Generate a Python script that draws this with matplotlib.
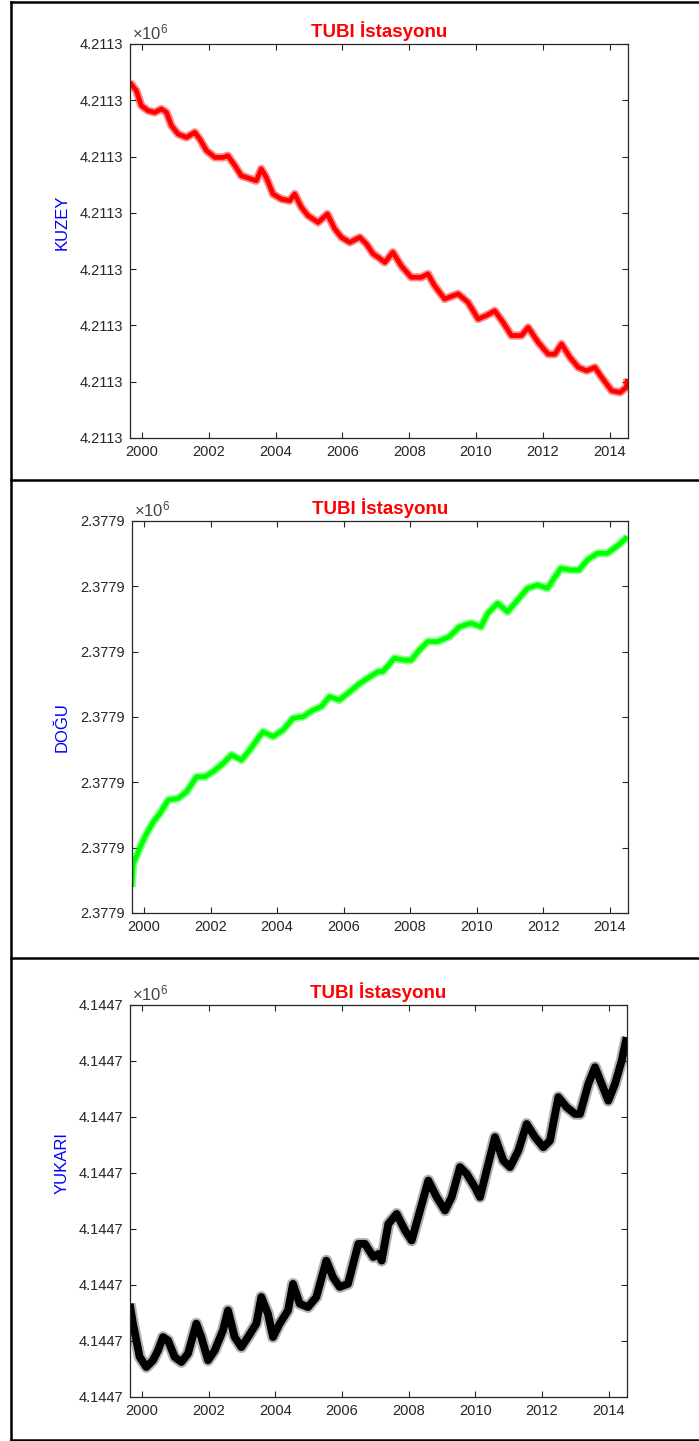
import numpy as np
import matplotlib
matplotlib.use("Agg")
import matplotlib.pyplot as plt
from matplotlib.lines import Line2D
from matplotlib.ticker import FixedLocator, FuncFormatter

plt.rcParams['font.family'] = ['Liberation Sans', 'DejaVu Sans']
plt.rcParams['mathtext.fontset'] = 'custom'
plt.rcParams['mathtext.rm'] = 'Liberation Sans'

# KUZEY (north) - years and offsets in mm above 4211300.30 m
kuzey_yil = [1999.63, 1999.83, 1999.98, 2000.18, 2000.38, 2000.58, 2000.73, 2000.88,
             2001.08, 2001.33, 2001.58, 2001.73, 2001.93, 2002.18, 2002.43, 2002.57,
             2002.78, 2002.97, 2003.27, 2003.42, 2003.57, 2003.72, 2003.92, 2004.17,
             2004.42, 2004.57, 2004.77, 2004.97, 2005.27, 2005.55, 2005.77, 2005.97,
             2006.22, 2006.52, 2006.72, 2006.92, 2007.07, 2007.27, 2007.51, 2007.76,
             2008.06, 2008.36, 2008.56, 2008.76, 2009.06, 2009.46, 2009.76, 2010.06,
             2010.31, 2010.56, 2010.81, 2011.06, 2011.36, 2011.56, 2011.86, 2012.16,
             2012.36, 2012.56, 2012.81, 2013.06, 2013.31, 2013.56, 2013.76, 2014.06,
             2014.31, 2014.50, 2014.53]
kuzey_mm = [126.4, 123.4, 118.1, 116.3, 115.7, 116.9, 115.7, 111.0,
            108.0, 106.8, 108.6, 106.2, 102.1, 99.7, 99.7, 100.3,
            96.8, 93.2, 92.0, 91.4, 95.6, 92.6, 86.7, 84.9,
            84.3, 86.7, 82.0, 79.0, 76.6, 79.6, 74.3, 71.3,
            69.5, 71.3, 68.9, 65.4, 64.2, 62.4, 66.0, 61.2,
            57.1, 57.1, 58.3, 54.1, 49.4, 51.2, 48.2, 42.3,
            43.5, 45.2, 41.1, 36.4, 36.4, 39.3, 34.0, 29.8,
            29.8, 33.4, 28.7, 25.1, 23.9, 25.1, 21.6, 16.8,
            16.2, 18.0, 21.0]

# DOGU (east) - offsets in mm above 2377900.20 m
dogu_yil = [1999.63, 1999.68, 1999.83, 2000.03, 2000.28, 2000.48, 2000.73, 2001.03,
            2001.28, 2001.58, 2001.83, 2002.08, 2002.38, 2002.63, 2002.93, 2003.18,
            2003.43, 2003.58, 2003.88, 2004.18, 2004.48, 2004.78, 2005.08, 2005.33,
            2005.58, 2005.88, 2006.18, 2006.49, 2006.79, 2007.04, 2007.18, 2007.53,
            2007.83, 2008.03, 2008.28, 2008.53, 2008.83, 2009.18, 2009.48, 2009.83,
            2010.13, 2010.33, 2010.63, 2010.93, 2011.23, 2011.53, 2011.83, 2012.13,
            2012.33, 2012.53, 2012.83, 2013.08, 2013.33, 2013.63, 2013.93, 2014.13,
            2014.33, 2014.53]
dogu_mm = [8.0, 15.2, 18.8, 23.4, 27.9, 30.5, 34.6, 35.1,
           37.1, 41.7, 41.7, 43.3, 45.8, 48.4, 46.8, 49.9,
           53.5, 55.5, 54.0, 56.0, 59.6, 60.1, 62.1, 63.2,
           66.2, 65.2, 67.7, 70.3, 72.3, 73.9, 73.9, 78.0,
           77.4, 77.4, 80.5, 83.1, 83.1, 84.6, 87.6, 88.7,
           87.6, 91.7, 94.8, 92.2, 95.8, 99.4, 100.4, 99.4,
           102.5, 105.5, 105.0, 105.0, 108.1, 110.1, 110.1, 111.6,
           113.2, 115.2]

# YUKARI (up) - offsets in mm above 4144700.30 m
yukari_yil = [1999.63, 1999.73, 1999.93, 2000.13, 2000.33, 2000.48, 2000.63, 2000.78,
              2000.98, 2001.18, 2001.38, 2001.63, 2001.78, 2001.98, 2002.18, 2002.43,
              2002.58, 2002.78, 2002.98, 2003.18, 2003.43, 2003.58, 2003.78, 2003.93,
              2004.13, 2004.38, 2004.53, 2004.73, 2004.98, 2005.23, 2005.53, 2005.73,
              2005.93, 2006.18, 2006.49, 2006.69, 2006.94, 2007.09, 2007.19, 2007.39,
              2007.64, 2007.89, 2008.09, 2008.34, 2008.59, 2008.84, 2009.09, 2009.29,
              2009.54, 2009.74, 2009.99, 2010.14, 2010.39, 2010.59, 2010.84, 2011.04,
              2011.29, 2011.54, 2011.79, 2012.04, 2012.24, 2012.49, 2012.74, 2012.99,
              2013.14, 2013.39, 2013.59, 2013.79, 2013.99, 2014.19, 2014.39, 2014.54]
yukari_mm = [33.3, 26.2, 14.3, 10.7, 13.1, 16.6, 21.4, 20.2,
             14.3, 12.5, 15.5, 26.2, 21.4, 13.1, 16.6, 23.8,
             30.9, 21.4, 17.8, 21.4, 26.2, 35.7, 29.7, 21.4,
             26.2, 30.9, 40.4, 33.3, 32.1, 35.7, 48.7, 42.8,
             39.3, 40.4, 54.7, 54.7, 50.0, 51.1, 48.7, 61.8,
             65.4, 59.5, 55.9, 66.6, 77.3, 71.4, 66.6, 71.4,
             82.1, 79.7, 74.9, 71.4, 83.3, 92.8, 84.4, 82.1,
             88.0, 97.5, 92.8, 89.2, 91.6, 107.1, 103.5, 101.1,
             101.1, 111.8, 117.8, 111.8, 105.8, 111.8, 120.1, 128.5]

baslik = 'TUBI İstasyonu'
eksen_adlari = ['KUZEY', 'DOĞU', 'YUKARI']
tabanlar = [4211300.30, 2377900.20, 4144700.30]
araliklar = [0.14, 0.12, 0.14]
yil_etiketleri = [2000, 2002, 2004, 2006, 2008, 2010, 2012, 2014]

W, H = 699, 1441
fig = plt.figure(figsize=(W / 100, H / 100), dpi=100)

# axes boxes in pixels: left, right, top, bottom
kutular = [(130, 628, 44, 438), (132, 628, 521, 913), (130, 627, 1005, 1397)]
renkler = ['#ff0000', '#00ff00', '#000000']
ic_kalinlik = [3.4, 3.4, 5.6]
dis_kalinlik = [6.0, 6.0, 8.5]
dis_alfa = [0.45, 0.45, 0.3]
seriler = [(kuzey_yil, kuzey_mm), (dogu_yil, dogu_mm), (yukari_yil, yukari_mm)]
etiket_y = [222, 727, 1163]
gri = '#262626'

for i in range(3):
    l, r, t, b = kutular[i]
    ax = fig.add_axes([l / W, 1 - b / H, (r - l) / W, (b - t) / H])
    yil, mm = seriler[i]
    deger = tabanlar[i] + np.array(mm) / 1000.0
    # soft outer band + solid core to mimic the dense daily scatter
    ax.plot(yil, deger, color=renkler[i], lw=dis_kalinlik[i], alpha=dis_alfa[i],
            solid_joinstyle='round', solid_capstyle='butt')
    ax.plot(yil, deger, color=renkler[i], lw=ic_kalinlik[i],
            solid_joinstyle='round', solid_capstyle='butt')
    ax.set_xlim(1999.64, 2014.55)
    ax.set_ylim(tabanlar[i], tabanlar[i] + araliklar[i])
    ax.xaxis.set_major_locator(FixedLocator(yil_etiketleri))
    ax.yaxis.set_major_locator(FixedLocator(tabanlar[i] + np.arange(0, araliklar[i] + 1e-9, 0.02)))
    ax.yaxis.set_major_formatter(FuncFormatter(lambda v, p: '%.4f' % (v / 1e6)))
    ax.tick_params(direction='in', length=4.5, width=0.8, colors=gri, labelsize=10.5,
                   top=True, right=True, pad=5)
    for s in ax.spines.values():
        s.set_color(gri)
        s.set_linewidth(0.9)
    ax.text(0.005, 1.004, r'$\times\mathregular{10^{6}}$', transform=ax.transAxes,
            ha='left', va='bottom', fontsize=12, color='#444444')
    ax.set_title(baslik, color='#ff0000', fontweight='bold', fontsize=13.5, pad=5)
    fig.text(62 / W, 1 - etiket_y[i] / H, eksen_adlari[i], rotation=90, color='#0000ff',
             fontsize=12, ha='center', va='center')

# frame lines around the panels
for yy in [2, 480, 958, 1440]:
    fig.add_artist(Line2D([11 / W, 1], [1 - yy / H, 1 - yy / H], color='black', lw=1.8,
                          transform=fig.transFigure))
fig.add_artist(Line2D([11 / W, 11 / W], [1 - 2 / H, 1 - 1440 / H], color='black', lw=1.8,
                      transform=fig.transFigure))

fig.savefig('out.png', dpi=100)
